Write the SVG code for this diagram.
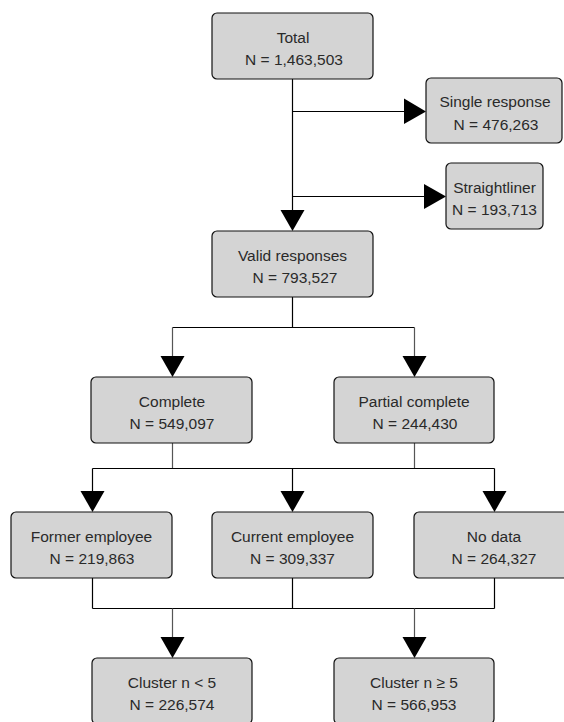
<svg xmlns="http://www.w3.org/2000/svg" width="564" height="722" viewBox="0 0 564 722">
<style>
.box{fill:#d4d4d4;stroke:#111;stroke-width:1.2}
.t{font-family:"Liberation Sans",Arial,sans-serif;font-size:15.5px;fill:#2a2a2a;text-anchor:middle}
.ln{fill:none;stroke:#000;stroke-width:1.2}
.lg{fill:none;stroke:#555;stroke-width:1.2}
.ah{fill:#000;stroke:none}
</style>
<rect width="564" height="722" fill="#fff"/>
<g id="connectors">
  <path class="ln" d="M292.5 79V210"/>
  <polygon class="ah" points="280.5,210 304.5,210 292.5,231"/>
  <path class="ln" d="M292.5 111.5H404"/>
  <polygon class="ah" points="404,98.5 404,124 426,111.5"/>
  <path class="ln" d="M292.5 196.5H424"/>
  <polygon class="ah" points="424,184 424,209 446,196.5"/>
  <path class="ln" d="M292.5 297V327.5M172.5 327.5H414.5"/>
  <path class="lg" d="M172.5 327.5V356M414.5 327.5V356"/>
  <polygon class="ah" points="160.5,356 184.5,356 172.5,377"/>
  <polygon class="ah" points="402.5,356 426.5,356 414.5,377"/>
  <path class="lg" d="M172.5 443V468.5M414.5 443V468.5"/>
  <path class="ln" d="M92.5 468.5H494.5M92.5 468.5V491M292.5 468.5V491M494.5 468.5V491"/>
  <polygon class="ah" points="80.5,491 104.5,491 92.5,512"/>
  <polygon class="ah" points="280.5,491 304.5,491 292.5,512"/>
  <polygon class="ah" points="482.5,491 506.5,491 494.5,512"/>
  <path class="ln" d="M92.5 578V608.5M292.5 578V608.5M494.5 578V608.5M92.5 608.5H494.5"/>
  <path class="lg" d="M172.5 608.5V637M414.5 608.5V637"/>
  <polygon class="ah" points="160.5,637 184.5,637 172.5,658"/>
  <polygon class="ah" points="402.5,637 426.5,637 414.5,658"/>
</g>
<g id="total">
  <rect class="box" x="212" y="13" width="161" height="66" rx="5"/>
  <text class="t" x="293" y="42.5">Total</text>
  <text class="t" x="294" y="65">N = 1,463,503</text>
</g>
<g id="single">
  <rect class="box" x="426" y="78" width="136" height="65" rx="5"/>
  <text class="t" x="495" y="107">Single response</text>
  <text class="t" x="496" y="130">N = 476,263</text>
</g>
<g id="straightliner">
  <rect class="box" x="446" y="163" width="97" height="66" rx="5"/>
  <text class="t" x="494.5" y="192.5">Straightliner</text>
  <text class="t" x="494.5" y="215">N = 193,713</text>
</g>
<g id="valid">
  <rect class="box" x="212" y="231" width="161" height="66" rx="5"/>
  <text class="t" x="292.5" y="260.5">Valid responses</text>
  <text class="t" x="295" y="283">N = 793,527</text>
</g>
<g id="complete">
  <rect class="box" x="91" y="377" width="161" height="66" rx="5"/>
  <text class="t" x="172" y="406.5">Complete</text>
  <text class="t" x="172" y="429">N = 549,097</text>
</g>
<g id="partial">
  <rect class="box" x="334" y="377" width="160" height="66" rx="5"/>
  <text class="t" x="414" y="406.5">Partial complete</text>
  <text class="t" x="415" y="429">N = 244,430</text>
</g>
<g id="former">
  <rect class="box" x="11" y="512" width="161" height="66" rx="5"/>
  <text class="t" x="91.5" y="541.5">Former employee</text>
  <text class="t" x="92" y="564">N = 219,863</text>
</g>
<g id="current">
  <rect class="box" x="212" y="512" width="161" height="66" rx="5"/>
  <text class="t" x="292.5" y="541.5">Current employee</text>
  <text class="t" x="292.5" y="564">N = 309,337</text>
</g>
<g id="nodata">
  <rect class="box" x="414" y="512" width="161" height="66" rx="5"/>
  <text class="t" x="494" y="541.5">No data</text>
  <text class="t" x="494" y="564">N = 264,327</text>
</g>
<g id="cluster-lt5">
  <rect class="box" x="92" y="658" width="160" height="66" rx="5"/>
  <text class="t" x="172" y="687.5">Cluster n &lt; 5</text>
  <text class="t" x="172" y="710">N = 226,574</text>
</g>
<g id="cluster-ge5">
  <rect class="box" x="334" y="658" width="160" height="66" rx="5"/>
  <text class="t" x="414" y="687.5">Cluster n ≥ 5</text>
  <text class="t" x="414" y="710">N = 566,953</text>
</g>
</svg>
